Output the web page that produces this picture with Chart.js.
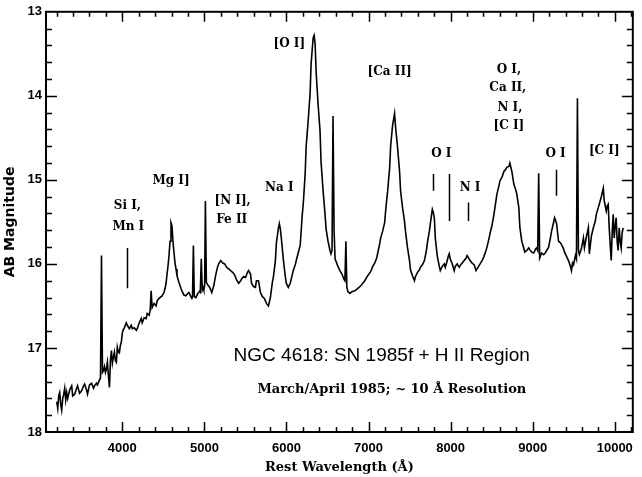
<!DOCTYPE html>
<html>
<head>
<meta charset="utf-8">
<script src="https://cdn.jsdelivr.net/npm/chart.js@4/dist/chart.umd.min.js"></script>
<style>
html,body{margin:0;padding:0;background:#fff;}
canvas{display:block;}
</style>
</head>
<body>
<canvas id="c" width="642" height="477"></canvas>
<script>
// Rest wavelength (Angstrom) of each traced point of the spectrum
const wavelength = [
3201,3213,3225,3237,3249,3261,3274,3286,3298,3310,3322,3334,3358,3383,3395,3419,3443,3455,3479,3504,
3528,3540,3564,3576,3600,3625,3649,3661,3685,3697,3722,3734,3746,3758,3770,3782,3794,3806,3818,3830,
3843,3855,3867,3879,3891,3903,3915,3927,3939,3952,3964,3976,3988,4000,4012,4024,4048,4061,4085,4109,
4121,4145,4170,4182,4206,4230,4242,4266,4291,4303,4327,4339,4351,4363,4387,4412,4424,4448,4484,4508,
4521,4533,4545,4557,4569,4581,4593,4605,4617,4630,4642,4654,4666,4690,4714,4726,4751,4775,4799,4811,
4835,4847,4855,4866,4877,4896,4920,4932,4944,4950,4962,4974,4985,4993,5003,5012,5024,5041,5065,5090,
5114,5138,5162,5174,5199,5223,5247,5271,5295,5320,5344,5368,5392,5417,5441,5453,5477,5501,5525,5538,
5562,5574,5598,5622,5634,5659,5683,5707,5731,5756,5780,5804,5828,5840,5865,5877,5901,5913,5925,5937,
5961,5986,5998,6022,6046,6070,6082,6107,6119,6143,6167,6179,6191,6204,6216,6228,6240,6264,6288,6300,
6325,6337,6349,6361,6385,6409,6421,6446,6470,6482,6506,6530,6542,6555,6567,6580,6592,6627,6651,6676,
6700,6712,6724,6736,6748,6773,6797,6833,6869,6906,6954,6990,7027,7051,7075,7099,7112,7136,7148,7172,
7196,7208,7220,7233,7245,7257,7269,7293,7317,7329,7354,7378,7390,7414,7438,7450,7475,7499,7511,7535,
7559,7572,7596,7620,7632,7656,7681,7705,7717,7741,7753,7777,7790,7802,7814,7838,7862,7874,7898,7923,
7935,7959,7971,7983,7995,8020,8044,8056,8080,8104,8116,8141,8165,8189,8201,8225,8237,8262,8286,8310,
8322,8346,8359,8383,8407,8431,8443,8467,8480,8504,8528,8552,8564,8589,8601,8625,8649,8673,8685,8710,
8722,8734,8746,8770,8794,8806,8831,8843,8867,8891,8903,8928,8952,8964,8988,9012,9037,9049,9061,9073,
9085,9109,9133,9146,9170,9194,9218,9230,9254,9267,9279,9291,9315,9339,9351,9376,9388,9412,9436,9460,
9472,9485,9497,9521,9533,9545,9557,9569,9593,9618,9630,9654,9678,9690,9715,9739,9763,9775,9799,9811,
9836,9860,9872,9896,9908,9920,9932,9945,9957,9969,9981,9993,10005,10017,10029,10041,10054,10066,10078,10090,
10102
];
// AB magnitude at each of those wavelengths
const abMagnitude = [
17.64,17.72,17.57,17.53,17.67,17.74,17.60,17.55,17.48,17.62,17.53,17.60,17.50,17.45,17.57,17.55,17.48,17.45,17.54,17.51,
17.45,17.43,17.50,17.55,17.44,17.42,17.48,17.45,17.42,17.44,17.38,17.36,15.90,17.29,17.27,17.22,17.29,17.25,17.17,17.32,
17.47,17.15,17.03,17.18,17.11,17.05,17.15,17.17,16.99,17.05,17.06,16.97,16.93,16.82,16.78,16.76,16.70,16.73,16.77,16.73,
16.77,16.76,16.79,16.77,16.70,16.65,16.70,16.64,16.65,16.59,16.61,16.55,16.32,16.52,16.47,16.50,16.44,16.41,16.38,16.34,
16.29,16.23,16.12,16.02,15.90,15.73,15.51,15.55,15.73,15.87,15.99,16.06,16.14,16.22,16.29,16.32,16.37,16.38,16.35,16.34,
16.39,16.41,16.39,15.78,16.39,16.40,16.35,16.34,16.32,16.33,15.94,16.31,16.28,16.31,16.26,15.25,16.22,16.25,16.28,16.34,
16.26,16.13,16.03,16.00,15.96,15.99,16.00,16.04,16.06,16.08,16.10,16.13,16.19,16.23,16.20,16.18,16.15,16.16,16.10,16.08,
16.12,16.23,16.27,16.28,16.20,16.20,16.34,16.39,16.41,16.47,16.50,16.40,16.22,16.16,15.96,15.75,15.58,15.52,15.58,15.69,
15.94,16.15,16.23,16.28,16.23,16.13,16.08,16.01,15.96,15.87,15.78,15.61,15.43,15.29,15.11,14.92,14.60,14.30,13.97,13.62,
13.31,13.28,13.38,13.71,14.10,14.42,14.78,15.13,15.41,15.58,15.73,15.84,15.88,15.84,14.24,15.60,15.94,16.03,16.08,16.12,
16.18,16.20,15.73,16.28,16.33,16.35,16.33,16.32,16.29,16.26,16.20,16.14,16.09,16.03,15.99,15.93,15.87,15.76,15.69,15.61,
15.51,15.37,15.25,15.13,14.99,14.86,14.60,14.35,14.21,14.37,14.62,14.90,15.13,15.33,15.49,15.61,15.81,15.96,16.07,16.14,
16.20,16.15,16.10,16.07,16.04,16.01,15.96,15.84,15.75,15.61,15.52,15.35,15.39,15.46,15.70,15.91,16.03,16.08,16.03,16.00,
16.04,15.96,15.91,15.88,15.94,16.00,16.08,16.03,16.00,16.04,16.02,15.99,15.96,15.93,15.90,15.94,15.96,15.99,16.01,16.08,
16.06,16.02,16.00,15.96,15.91,15.84,15.80,15.70,15.64,15.54,15.41,15.25,15.17,15.07,15.01,14.97,14.90,14.87,14.85,14.84,
14.80,14.85,14.90,15.05,15.12,15.17,15.33,15.56,15.73,15.81,15.86,15.84,15.81,15.83,15.86,15.87,15.82,15.81,15.84,14.92,
15.93,15.87,15.89,15.88,15.84,15.80,15.68,15.61,15.51,15.45,15.48,15.52,15.73,15.75,15.77,15.82,15.86,15.91,15.96,16.03,
16.08,15.99,16.01,15.90,15.94,14.03,15.84,15.89,15.82,15.69,15.81,15.68,15.57,15.88,15.67,15.57,15.49,15.41,15.33,15.29,
15.20,15.10,15.25,15.37,15.31,15.29,15.57,15.78,15.96,15.61,15.41,15.69,15.55,15.45,15.73,15.84,15.57,15.73,15.81,15.63,
15.57
];
const xTickValues = [4000,5000,6000,7000,8000,9000,10000];
const yTickValues = [13,14,15,16,17,18];

// line-identification labels: text, wavelength, magnitude (label centre)
const lineLabels = [
  ['Si I,', 4061, 15.31], ['Mn I', 4073, 15.56], ['Mg I]', 4593, 15.01],
  ['[N I],', 5344, 15.25], ['Fe II', 5332, 15.48], ['Na I', 5913, 15.09],
  ['[O I]', 6034, 13.38], ['[Ca II]', 7257, 13.72],
  ['O I,', 8710, 13.69], ['Ca II,', 8697, 13.91], ['N I,', 8722, 14.14], ['[C I]', 8710, 14.36],
  ['O I', 7886, 14.69], ['N I', 8237, 15.09], ['O I', 9279, 14.69], ['[C I]', 9872, 14.66]
];
// identification marker bars: wavelength, top magnitude, bottom magnitude
const markerBars = [
  [4061, 15.81, 16.29], [7786, 14.93, 15.13], [7980, 14.93, 15.49],
  [8213, 15.27, 15.49], [9279, 14.88, 15.19]
];

const frameTicks = {
  id: 'frameTicks',
  afterDraw(chart) {
    const {ctx, chartArea: {left, right, top, bottom}, scales: {x, y}} = chart;
    ctx.save();
    ctx.strokeStyle = '#000';
    ctx.lineWidth = 2;
    ctx.strokeRect(left, top, right - left, bottom - top);
    ctx.lineWidth = 1.5;
    ctx.beginPath();
    for (let v = 3200; v <= 10200; v += 200) {
      const px = Math.round(x.getPixelForValue(v)) + 0.5;
      const L = (v % 1000 === 0) ? 10 : 5;
      ctx.moveTo(px, bottom); ctx.lineTo(px, bottom - L);
      ctx.moveTo(px, top); ctx.lineTo(px, top + L);
    }
    for (let k = 1; k < 25; k++) {
      const py = Math.round(y.getPixelForValue(13 + k * 0.2)) + 0.5;
      const L = (k % 5 === 0) ? 11 : 6;
      ctx.moveTo(left, py); ctx.lineTo(left + L, py);
      ctx.moveTo(right, py); ctx.lineTo(right - L, py);
    }
    ctx.stroke();
    // marker bars
    ctx.lineWidth = 1.5;
    ctx.beginPath();
    markerBars.forEach(([w, m1, m2]) => {
      const px = Math.round(x.getPixelForValue(w)) + 0.5;
      ctx.moveTo(px, y.getPixelForValue(m1));
      ctx.lineTo(px, y.getPixelForValue(m2));
    });
    ctx.stroke();
    // labels
    ctx.fillStyle = '#000';
    ctx.textAlign = 'center';
    ctx.textBaseline = 'middle';
    ctx.font = 'bold 12px "DejaVu Serif"';
    lineLabels.forEach(([t, w, m]) => {
      ctx.fillText(t, x.getPixelForValue(w), y.getPixelForValue(m));
    });
    ctx.textAlign = 'left';
    ctx.font = '19px "Liberation Sans"';
    ctx.fillText('NGC 4618: SN 1985f + H II Region', x.getPixelForValue(5356), y.getPixelForValue(17.09));
    ctx.font = 'bold 13px "DejaVu Serif"';
    ctx.fillText('March/April 1985; ~ 10 \u00C5 Resolution', x.getPixelForValue(5646), y.getPixelForValue(17.50));
    ctx.restore();
  }
};

new Chart(document.getElementById('c'), {
  type: 'line',
  data: {
    datasets: [{
      data: wavelength.map((w, i) => ({x: w, y: abMagnitude[i]})),
      borderColor: '#000',
      borderWidth: 1.6,
      pointRadius: 0,
      tension: 0,
      fill: false
    }]
  },
  options: {
    responsive: false,
    animation: false,
    layout: {padding: {top: 10, right: 5, left: 0, bottom: 0}},
    plugins: {legend: {display: false}, tooltip: {enabled: false}},
    scales: {
      x: {
        type: 'linear', min: 3070, max: 10220,
        afterBuildTicks: s => { s.ticks = xTickValues.map(v => ({value: v})); },
        afterFit: s => { s.height = 45; },
        grid: {display: false, drawTicks: false},
        border: {display: false},
        ticks: {color: '#000', padding: 9, maxRotation: 0, autoSkip: false,
                callback: v => String(v),
                font: {family: 'Liberation Sans', weight: 'bold', size: 13}},
        title: {display: true, text: 'Rest Wavelength (\u00C5)', color: '#000', padding: {top: 0, bottom: 2},
                font: {family: 'DejaVu Serif', weight: 'bold', size: 13}}
      },
      y: {
        reverse: true, min: 13, max: 18,
        afterBuildTicks: s => { s.ticks = yTickValues.map(v => ({value: v})); },
        afterFit: s => { s.width = 46; },
        grid: {display: false, drawTicks: false},
        border: {display: false},
        ticks: {color: '#000', padding: 4, autoSkip: false,
                callback: v => String(v),
                font: {family: 'Liberation Sans', weight: 'bold', size: 13}},
        title: {display: true, text: 'AB Magnitude', color: '#000', padding: {top: 2, bottom: 0},
                font: {family: 'DejaVu Sans', weight: 'bold', size: 14}}
      }
    }
  },
  plugins: [frameTicks]
});
</script>
</body>
</html>
